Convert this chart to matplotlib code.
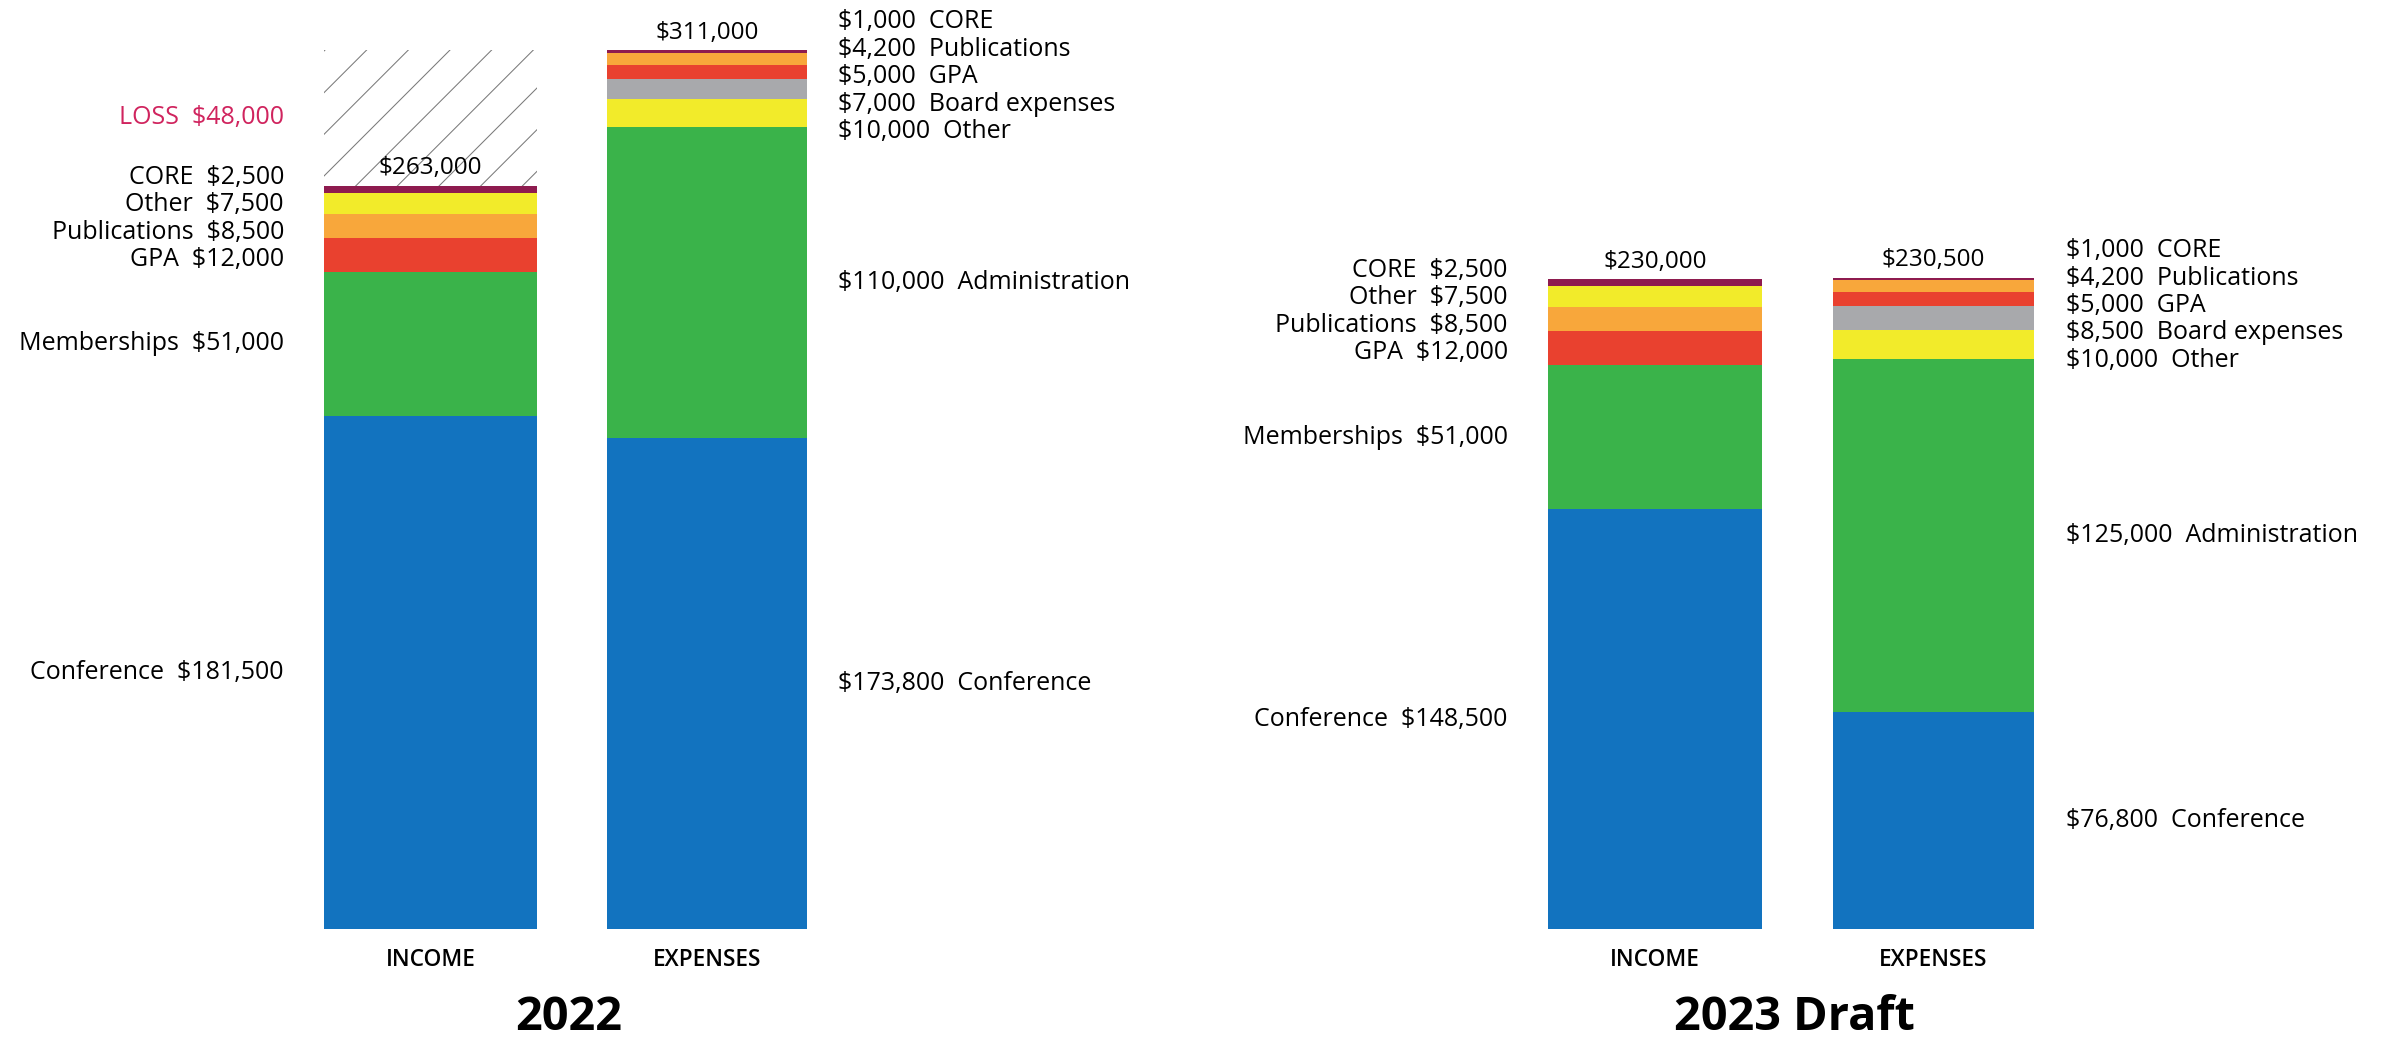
import matplotlib.pyplot as plt
import numpy as np

# Budget figures (bottom segment first)
income_cats = ["Conference", "Memberships", "GPA", "Publications", "Other", "CORE"]
income_2022 = [181500, 51000, 12000, 8500, 7500, 2500]
income_2023 = [148500, 51000, 12000, 8500, 7500, 2500]

expense_cats = ["Conference", "Administration", "Other", "Board expenses", "GPA", "Publications", "CORE"]
expense_2022 = [173800, 110000, 10000, 7000, 5000, 4200, 1000]
expense_2023 = [76800, 125000, 10000, 8500, 5000, 4200, 1000]

loss_2022 = 48000
panel_titles = ["2022", "2023 Draft"]
bar_names = ["INCOME", "EXPENSES"]

colors = {
    "Conference": "#1273BF",
    "Memberships": "#3AB34A",
    "Administration": "#3AB34A",
    "GPA": "#E9412F",
    "Publications": "#F8A73B",
    "Other": "#F2EB2A",
    "Board expenses": "#A8A9AC",
    "CORE": "#8E1B4F",
}

plt.rcParams['font.family'] = ['Open Sans', 'DejaVu Sans']
plt.rcParams['hatch.linewidth'] = 0.3

LABEL_GAP = 9700  # min vertical distance between labels, in dollars


def fmt(v):
    return "${:,}".format(v)


def spread_labels(centers, gap):
    """Push overlapping labels apart, keeping each cluster centred on its segments."""
    # centers ordered top to bottom
    groups = [[i] for i in range(len(centers))]

    def positions(g):
        m = np.mean([centers[i] for i in g])
        n = len(g)
        return [m + gap * ((n - 1) / 2 - k) for k in range(n)]

    merged = True
    while merged:
        merged = False
        for j in range(len(groups) - 1):
            upper = positions(groups[j])
            lower = positions(groups[j + 1])
            if upper[-1] - lower[0] < gap:
                groups[j] = groups[j] + groups[j + 1]
                del groups[j + 1]
                merged = True
                break
    out = [0] * len(centers)
    for g in groups:
        for i, p in zip(g, positions(g)):
            out[i] = p
    return out


def draw_stack(ax, x, width, cats, values, label_x, side):
    bottoms = np.concatenate([[0], np.cumsum(values)[:-1]])
    for c, v, b in zip(cats, values, bottoms):
        ax.bar(x, v, bottom=b, width=width, color=colors[c], linewidth=0)
    centers = (bottoms + np.array(values) / 2)[::-1]
    ys = spread_labels(list(centers), LABEL_GAP)
    for c, v, y in zip(cats[::-1], values[::-1], ys):
        if side == "left":
            ax.text(label_x, y, f"{c}  {fmt(v)}", ha="right", va="center", fontsize=7.2)
        else:
            ax.text(label_x, y, f"{fmt(v)}  {c}", ha="left", va="center", fontsize=7.2)
    total = int(sum(values))
    ax.annotate(fmt(total), (x, total), xytext=(0, 1.5), textcoords="offset points",
                ha="center", va="bottom", fontsize=7.0)
    return total


fig = plt.figure(figsize=(2397 / 250, 1044 / 250), dpi=250)
ax_left = fig.add_axes([0, 0, 0.48, 1])
ax_right = fig.add_axes([0.48, 0, 0.52, 1])
ax_left.set_xlim(-1.557, 2.604)
ax_right.set_xlim(-1.813, 2.665)

panels = [
    (ax_left, income_2022, expense_2022, loss_2022),
    (ax_right, income_2023, expense_2023, None),
]

for (ax, inc, exp, loss), title in zip(panels, panel_titles):
    ax.set_ylim(-40700, 328700)
    ax.axis("off")
    inc_total = draw_stack(ax, 0, 0.77, income_cats, inc, -0.53, "left")
    draw_stack(ax, 1, 0.72, expense_cats, exp, 1.475, "right")

    if loss:
        ax.bar(0, loss, bottom=inc_total, width=0.77, facecolor="none",
               edgecolor="#7a7a7a", linewidth=0, hatch="//")
        ax.text(-0.53, inc_total + loss / 2, f"LOSS  {fmt(loss)}", ha="right",
                va="center", fontsize=7.2, color="#D0245E")

    for xi, name in enumerate(bar_names):
        ax.text(xi, -11000, name, ha="center", va="center", fontsize=6.5,
                fontweight="semibold")
    ax.text(0.5, -31500, title, ha="center", va="center", fontsize=13.5,
            fontweight="bold")

fig.savefig("out.png", dpi=250, facecolor="white")
